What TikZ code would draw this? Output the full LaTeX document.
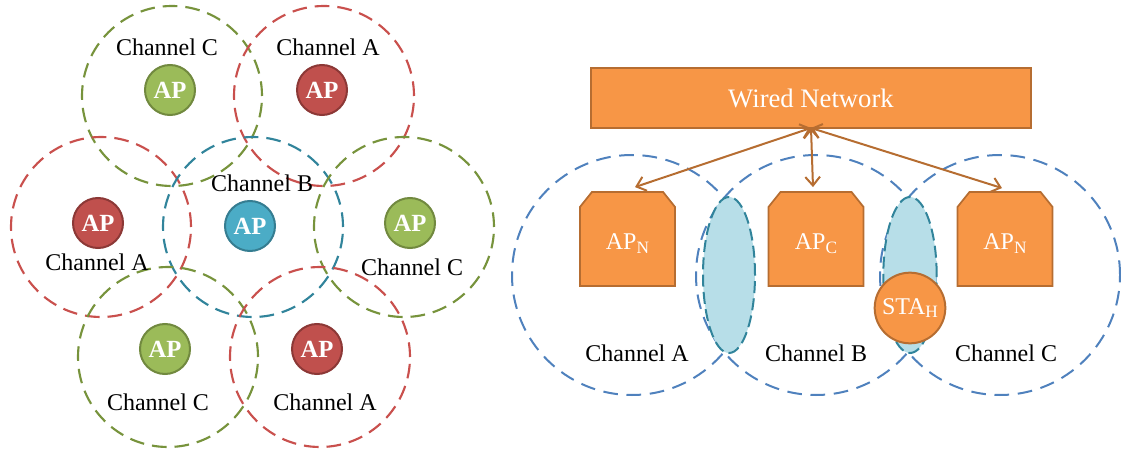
\documentclass[tikz,border=0pt]{standalone}
\usepackage{fontspec}
\setmainfont{Liberation Serif}
\usetikzlibrary{arrows.meta,calc}

% palette
\definecolor{cOrange}{HTML}{F79646}
\definecolor{cOrangeDk}{HTML}{B66D31}
\definecolor{cGreen}{HTML}{9BBB59}
\definecolor{cGreenDk}{HTML}{71893F}
\definecolor{cGreenLine}{HTML}{77933C}
\definecolor{cRed}{HTML}{C0504D}
\definecolor{cRedDk}{HTML}{8C3836}
\definecolor{cRedLine}{HTML}{C9504D}
\definecolor{cTeal}{HTML}{4BACC6}
\definecolor{cTealDk}{HTML}{357D91}
\definecolor{cTealLine}{HTML}{31849B}
\definecolor{cBlueLine}{HTML}{4F81BD}
\definecolor{cLens}{HTML}{B7DEE8}

\newcommand{\lowidx}[1]{\raisebox{-0.35ex}{\fontsize{13}{13}\selectfont #1}}

% access point box: rectangle frame with clipped top corners, plus its caption
\newcommand{\accesspoint}[4]{%
  \node[minimum width=71pt, minimum height=70pt, inner sep=0pt] (#1) at (#2,#3) {};
  \filldraw[fill=cOrange, draw=cOrangeDk, line width=1.3pt, line join=miter]
    (#1.south west) -- ($(#1.north west)+(0,15)$) -- ($(#1.north west)+(12,0)$)
    -- ($(#1.north east)+(-12,0)$) -- ($(#1.north east)+(0,15)$) -- (#1.south east) -- cycle;
  \node[text=white, font=\fontsize{18}{18}\selectfont, inner sep=0pt] (#1-txt)
    at ($(#1.center)+(0,5)$) {#4};
}

\begin{document}
\begin{tikzpicture}[x=0.75pt,y=-0.75pt,
  zone/.style={line width=1.6pt, dash pattern=on 11pt off 6pt},
  zoneG/.style={zone, draw=cGreenLine},
  zoneR/.style={zone, draw=cRedLine},
  zoneB/.style={zone, draw=cTealLine},
  cell/.style={draw=cBlueLine, line width=1.5pt, dash pattern=on 11pt off 6.5pt},
  lens/.style={fill=cLens, draw=cTealLine, line width=1.5pt, dash pattern=on 9pt off 4pt},
  apdot/.style={circle, line width=1.5pt, minimum size=37.5pt, inner sep=0pt,
    text=white, font=\fontsize{18.5}{18.5}\selectfont\bfseries},
  apG/.style={apdot, fill=cGreen, draw=cGreenDk},
  apR/.style={apdot, fill=cRed, draw=cRedDk},
  apB/.style={apdot, fill=cTeal, draw=cTealDk},
  chan/.style={font=\fontsize{18}{18}\selectfont, inner sep=0pt},
  link/.style={draw=cOrangeDk, line width=1.5pt,
    {Straight Barb[length=6.5pt,width=11pt]}-{Straight Barb[length=6.5pt,width=11pt]}}
]
\useasboundingbox (0,0) rectangle (1121,452);

% ---------- left: channel reuse pattern ----------
\draw[zoneG] (172,96)  circle[radius=67.5pt];
\draw[zoneR] (324,96)  circle[radius=67.5pt];
\draw[zoneR] (101,227) circle[radius=67.5pt];
\draw[zoneB] (253,227) circle[radius=67.5pt];
\draw[zoneG] (404,227) circle[radius=67.5pt];
\draw[zoneG] (168,357) circle[radius=67.5pt];
\draw[zoneR] (320,357) circle[radius=67.5pt];

\node[apG] (ap1) at (170,90)  {AP};
\node[apR] (ap2) at (322,90)  {AP};
\node[apR] (ap3) at (98,223)  {AP};
\node[apB] (ap4) at (250,226) {AP};
\node[apG] (ap5) at (410,223) {AP};
\node[apG] (ap6) at (165,349) {AP};
\node[apR] (ap7) at (317,349) {AP};

\node[chan] (l1) at (167,47)  {Channel C};
\node[chan] (l2) at (328,47)  {Channel A};
\node[chan] (l3) at (262,183) {Channel B};
\node[chan] (l4) at (97,262)  {Channel A};
\node[chan] (l5) at (412,267) {Channel C};
\node[chan] (l6) at (158,402) {Channel C};
\node[chan] (l7) at (325,402) {Channel A};

% ---------- right: wired backbone with three cells ----------
\draw[cell] (632,275)  circle[radius=90pt];
\draw[cell] (816,275)  circle[radius=90pt];
\draw[cell] (1000,275) circle[radius=90pt];

\draw[lens] (729,275) ellipse[x radius=19.5pt, y radius=58.5pt];
\draw[lens] (910,275) ellipse[x radius=20pt, y radius=58.5pt];

\node[fill=cOrange, draw=cOrangeDk, line width=1.3pt, minimum width=330pt, minimum height=45pt,
      inner sep=0pt, text=white, font=\fontsize{20}{20}\selectfont] (wired) at (811,98) {Wired Network};

\accesspoint{apa}{627.5}{239}{AP\lowidx{N}}
\accesspoint{apc}{816}{239}{AP\lowidx{C}}
\accesspoint{apn}{1005}{239}{AP\lowidx{N}}

\node[circle, fill=cOrange, draw=cOrangeDk, line width=1.5pt, minimum size=53pt, inner sep=0pt,
      text=white, font=\fontsize{18}{18}\selectfont] (sta) at (910,308) {STA\lowidx{H}};

\coordinate (hub) at (811,128);
\draw[link] (hub) -- ($(apa.north)+(7.5,-5)$);
\draw[link] (hub) -- ($(apc.north)+(-3,-5)$);
\draw[link] (hub) -- ($(apn.north)+(-3,-4)$);

\node[chan] (r1) at (637,353)  {Channel A};
\node[chan] (r2) at (816,353)  {Channel B};
\node[chan] (r3) at (1006,353) {Channel C};
\end{tikzpicture}
\end{document}
